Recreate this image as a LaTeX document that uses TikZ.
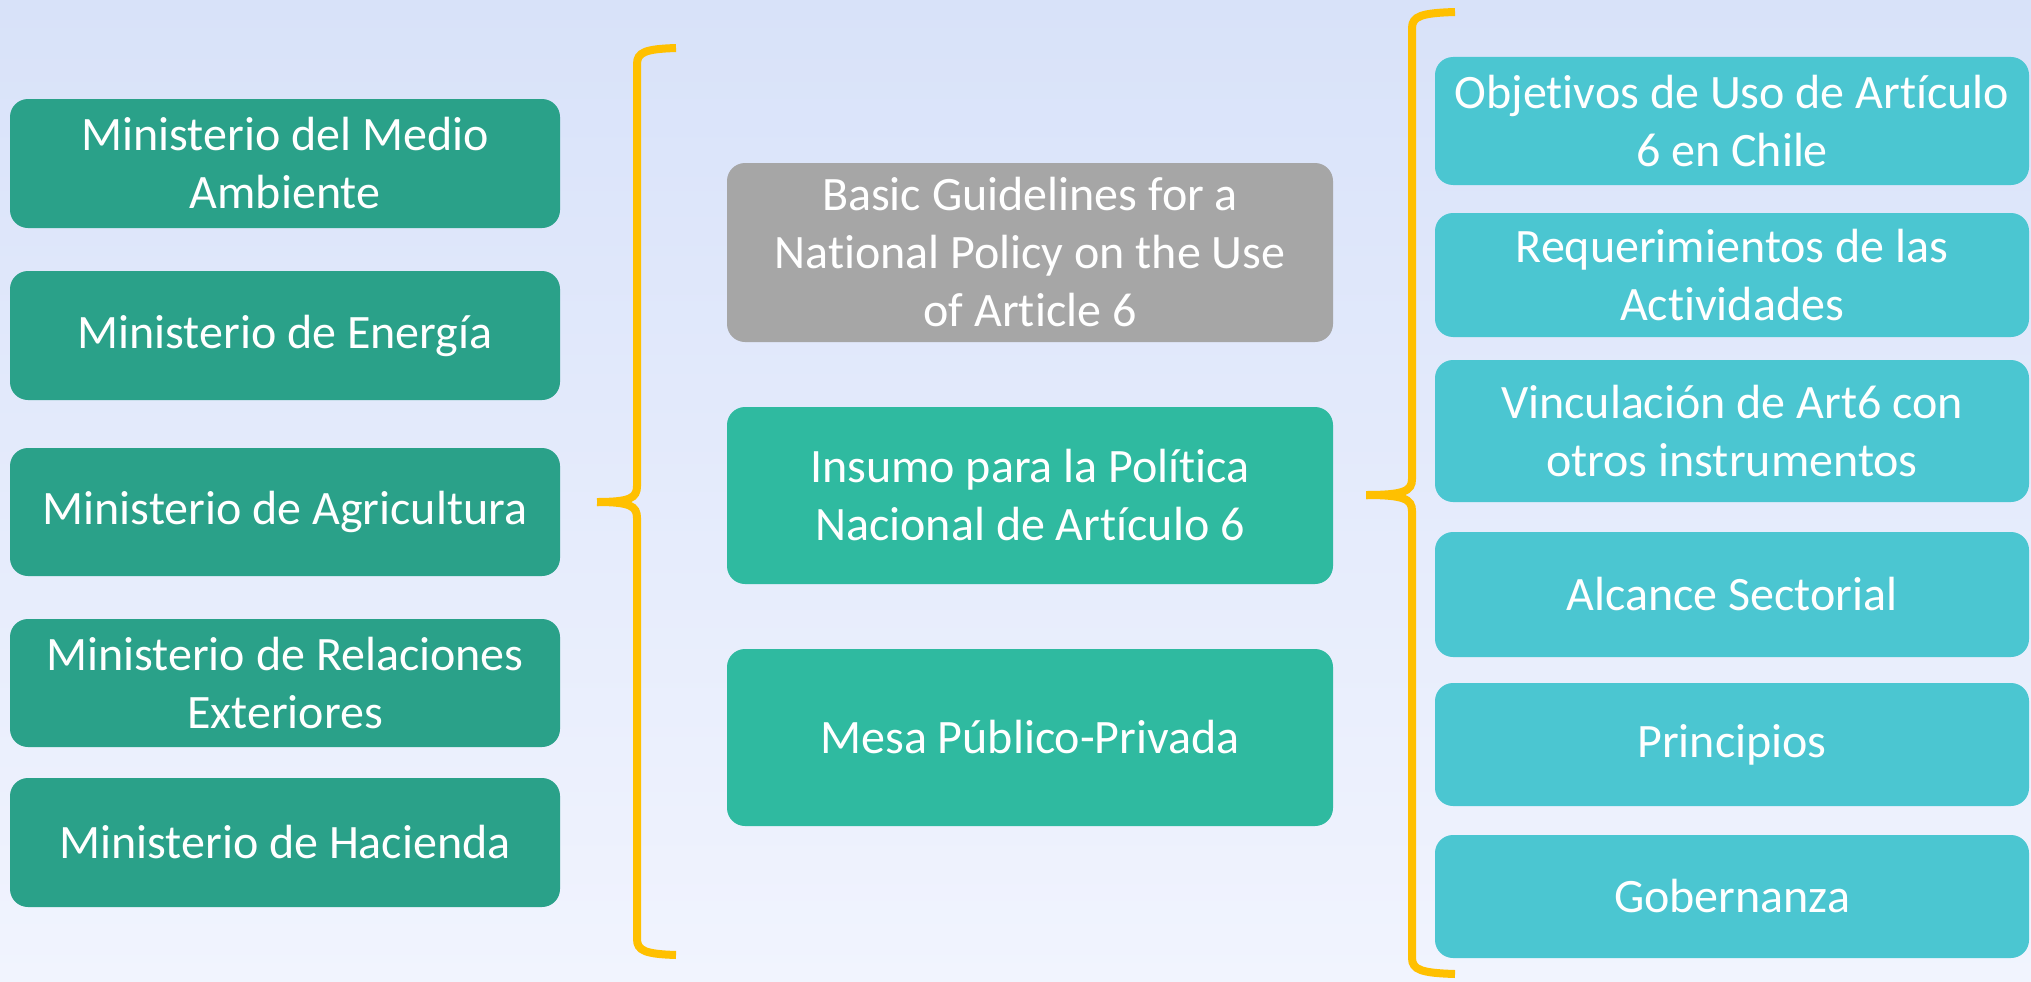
\documentclass[tikz,border=0pt]{standalone}
\usepackage{fontspec}
\setmainfont{Carlito}[Ligatures=NoCommon]
\definecolor{bgtop}{RGB}{216,226,249}
\definecolor{bgbot}{RGB}{241,244,254}
\definecolor{dteal}{RGB}{42,161,137}
\definecolor{mgreen}{RGB}{47,186,160}
\definecolor{mgray}{RGB}{166,166,166}
\definecolor{rcyan}{RGB}{75,198,209}
\definecolor{bracey}{RGB}{255,192,0}
\tikzset{
  boxbase/.style={rounded corners=18pt, text=white, align=center, inner sep=0pt,
    font=\fontsize{48}{58}\selectfont},
  lbox/.style={boxbase, fill=dteal, minimum width=550pt},
  mbox/.style={boxbase, fill=mgreen, minimum width=606pt},
  gbox/.style={boxbase, fill=mgray, minimum width=606pt},
  rbox/.style={boxbase, fill=rcyan, minimum width=594pt},
  bracestyle/.style={draw=bracey, line width=8pt}
}
\begin{document}
\begin{tikzpicture}[x=1pt,y=-1pt]
\useasboundingbox (0,0) rectangle (2031,982);
\shade[top color=bgtop, bottom color=bgbot] (0,0) rectangle (2031,982);

% left column
\node[lbox, minimum height=129pt] (m1) at (285,163.5) {Ministerio del Medio\\Ambiente};
\node[lbox, minimum height=129pt] (m2) at (285,335.5) {Ministerio de Energía};
\node[lbox, minimum height=128pt] (m3) at (285,512) {Ministerio de Agricultura};
\node[lbox, minimum height=128pt] (m4) at (285,683) {Ministerio de Relaciones\\Exteriores};
\node[lbox, minimum height=129pt] (m5) at (285,842.5) {Ministerio de Hacienda};

% middle column
\node[gbox, minimum height=179pt] (g1) at (1030,252.5) {Basic Guidelines for a\\National Policy on the Use\\of Article 6};
\node[mbox, minimum height=177pt] (g2) at (1030,495.5) {Insumo para la Política\\Nacional de Artículo 6};
\node[mbox, minimum height=177pt] (g3) at (1030,737.5) {Mesa Público-Privada};

% right column
\node[rbox, minimum height=128pt] (r1) at (1732,121) {Objetivos de Uso de Artículo\\6 en Chile};
\node[rbox, minimum height=124pt] (r2) at (1732,275) {Requerimientos de las\\Actividades};
\node[rbox, minimum height=142pt] (r3) at (1732,431) {Vinculación de Art6 con\\otros instrumentos};
\node[rbox, minimum height=125pt] (r4) at (1732,594.5) {Alcance Sectorial};
\node[rbox, minimum height=123pt] (r5) at (1732,744.5) {Principios};
\node[rbox, minimum height=123pt] (r6) at (1732,896.5) {Gobernanza};

% left brace
\coordinate (lbt) at (676,48);
\coordinate (lbm) at (597,502);
\coordinate (lbb) at (676,955);
\draw[bracestyle] (lbt) .. controls (646,49) and (637,52) .. (637,64) -- (637,486)
  .. controls (637,498) and (630,502) .. (lbm);
\draw[bracestyle] (lbm) .. controls (630,502) and (637,506) .. (637,518) -- (637,939)
  .. controls (637,951) and (646,954) .. (lbb);

% right brace
\coordinate (rbt) at (1455,12);
\coordinate (rbm) at (1366,495);
\coordinate (rbb) at (1455,974);
\draw[bracestyle] (rbt) .. controls (1422,13) and (1412,16) .. (1412,28) -- (1412,479)
  .. controls (1412,491) and (1404,495) .. (rbm);
\draw[bracestyle] (rbm) .. controls (1404,495) and (1412,499) .. (1412,511) -- (1412,958)
  .. controls (1412,970) and (1422,973) .. (rbb);
\end{tikzpicture}
\end{document}
